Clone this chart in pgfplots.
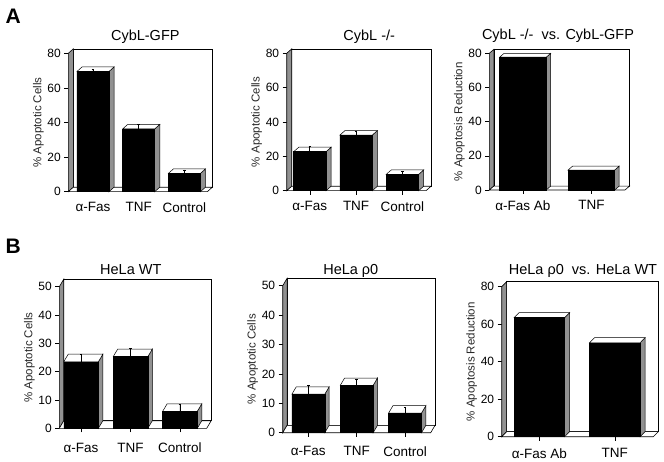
\documentclass[border=0pt]{standalone}
\usepackage{fontspec}
\setmainfont{Liberation Sans}
\usepackage{pgfplots}
\pgfplotsset{compat=1.18}
\usetikzlibrary{calc}
\definecolor{sidegray}{RGB}{145,145,145}
\definecolor{labgray}{RGB}{40,40,40}

% walls and floor of a pseudo-3D panel: xmin, xmax, ymax
\newcommand\walls[3]{%
 \pgfmathsetmacro\wa{#1+\dx}\pgfmathsetmacro\wb{#2+\dx}\pgfmathsetmacro\wc{#3+\dy}%
 \addplot[draw=black, fill=white, line width=0.6pt] coordinates {(\wa,\dy) (\wb,\dy) (\wb,\wc) (\wa,\wc)} -- cycle;
 \addplot[draw=black, fill=sidegray, line width=0.6pt] coordinates {(#1,0) (#1,#3) (\wa,\wc) (\wa,\dy)} -- cycle;
 \addplot[draw=black, fill=white, line width=0.6pt] coordinates {(#1,0) (#2,0) (\wb,\dy) (\wa,\dy)} -- cycle;
}
% side and top faces of a bar: x, value
\newcommand\barfaces[2]{%
 \pgfmathsetmacro\xl{#1-\bw}\pgfmathsetmacro\xr{#1+\bw}%
 \pgfmathsetmacro\xld{#1-\bw+\dx}\pgfmathsetmacro\xrd{#1+\bw+\dx}%
 \pgfmathsetmacro\vd{#2+\dy}%
 \addplot[draw=black, fill=sidegray, line width=0.5pt] coordinates {(\xr,0) (\xrd,\dy) (\xrd,\vd) (\xr,#2)} -- cycle;
 \addplot[draw=black, fill=white, line width=0.5pt] coordinates {(\xl,#2) (\xr,#2) (\xrd,\vd) (\xld,\vd)} -- cycle;
}

\pgfplotsset{
 panel/.style={
  scale only axis, clip=false, anchor=south west,
  axis lines*=left, axis line style={draw=none},
  tick align=outside, major tick length=4pt,
  ytick style={black, line width=0.6pt},
  xtick style={black, line width=0.6pt},
  xtick={0,1,2},
  /pgf/number format/assume math mode=true,
  yticklabel style={font=\fontsize{12}{12}\selectfont},
  xticklabel style={font=\fontsize{13.5}{14}\selectfont, yshift=-3pt},
  every axis y label/.style={at={($(axis description cs:0,0.5)+(-30pt,0)$)}, rotate=90, anchor=center,
     font=\fontsize{11.5}{12}\selectfont, text=labgray},
 },
 frontbar/.style={ybar, bar shift=0pt, fill=black, draw=black, line width=0.5pt,
  error bars/y dir=plus, error bars/y explicit,
  error bars/error bar style={black, line width=0.7pt},
  error bars/error mark options={rotate=90, mark size=1.3pt, black, line width=0.7pt}},
}

\begin{document}
\begin{tikzpicture}
\useasboundingbox (0,0) rectangle (664pt,461pt);

% panel letters
\node[anchor=base west, font=\bfseries\fontsize{21}{21}\selectfont] at (2pt,437pt) {A};
\node[anchor=base west, font=\bfseries\fontsize{21}{21}\selectfont] at (2pt,207.5pt) {B};

% titles
\begin{scope}[every node/.style={anchor=base, font=\fontsize{14.5}{15}\selectfont}]
\node at (145.3pt,420pt) {CybL-GFP};
\node at (369.2pt,420.3pt) {CybL -/-};
\node at (558pt,421pt) {CybL -/-\ \ vs. CybL-GFP};
\node at (130.8pt,186pt) {HeLa WT};
\node at (350.8pt,186.7pt) {HeLa ρ0};
\node at (583pt,186.7pt) {HeLa ρ0\ \ vs. HeLa WT};
\end{scope}

% A1
\begin{axis}[panel, at={(68.3pt,269.3pt)}, width=139pt, height=138.4pt,
  xmin=-0.54, xmax=2.50, ymin=0, ymax=80, ytick={0,20,40,60,80},
  xticklabels={α-Fas,TNF,Control}, xtick style={draw=none},
  ylabel={\% Apoptotic Cells}]
\def\dx{0.11}\def\dy{2.6}\def\bw{0.35}
\walls{-0.54}{2.50}{80}
\barfaces{0}{69.5}\barfaces{1}{36.3}\barfaces{2}{10.6}
\addplot[frontbar, bar width=0.7] coordinates {(0,69.5) +- (0,1.5) (1,36.3) +- (0,2.5) (2,10.6) +- (0,2)};
\end{axis}

% A2
\begin{axis}[panel, at={(286.7pt,270.3pt)}, width=139.3pt, height=137.4pt,
  xmin=-0.50, xmax=2.51, ymin=0, ymax=80, ytick={0,20,40,60,80},
  xticklabels={α-Fas,TNF,Control},
  ylabel={\% Apoptotic Cells}]
\def\dx{0.11}\def\dy{2.6}\def\bw{0.35}
\walls{-0.50}{2.51}{80}
\barfaces{0}{22.7}\barfaces{1}{32.4}\barfaces{2}{9.5}
\addplot[frontbar, bar width=0.7] coordinates {(0,22.7) +- (0,3) (1,32.4) +- (0,2) (2,9.5) +- (0,1.5)};
\end{axis}

% A3
\begin{axis}[panel, at={(489.3pt,271pt)}, width=135.7pt, height=136.7pt,
  xmin=-0.49, xmax=1.49, ymin=0, ymax=80, ytick={0,20,40,60,80}, xtick={0,1},
  xticklabels={α-Fas Ab,TNF},
  ylabel={\% Apoptosis Reduction}]
\def\dx{0.066}\def\dy{2.3}\def\bw{0.34}
\walls{-0.49}{1.49}{80}
\barfaces{0}{77.7}\barfaces{1}{11.7}
\addplot[frontbar, bar width=0.68] coordinates {(0,77.7) (1,11.7)};
\end{axis}

% B1
\begin{axis}[panel, at={(59.3pt,32.7pt)}, width=147.4pt, height=141.6pt,
  xmin=-0.44, xmax=2.54, ymin=0, ymax=50, ytick={0,10,20,30,40,50},
  xticklabels={α-Fas,TNF,Control}, xticklabel style={yshift=-4pt},
  ylabel={\% Apoptotic Cells}]
\def\dx{0.09}\def\dy{2.65}\def\bw{0.35}
\walls{-0.44}{2.54}{50}
\barfaces{0}{23.5}\barfaces{1}{25.3}\barfaces{2}{6}
\addplot[frontbar, bar width=0.7] coordinates {(0,23.5) +- (0,2.5) (1,25.3) +- (0,3) (2,6) +- (0,2.5)};
\end{axis}

% B2
\begin{axis}[panel, at={(282.7pt,28.3pt)}, width=148pt, height=147pt,
  xmin=-0.53, xmax=2.53, ymin=0, ymax=50, ytick={0,10,20,30,40,50},
  xticklabels={α-Fas,TNF,Control}, xticklabel style={yshift=-3pt},
  ylabel={\% Apoptotic Cells}]
\def\dx{0.09}\def\dy{2.5}\def\bw{0.34}
\walls{-0.53}{2.53}{50}
\barfaces{0}{13.1}\barfaces{1}{16.1}\barfaces{2}{6.7}
\addplot[frontbar, bar width=0.68] coordinates {(0,13.1) +- (0,3) (1,16.1) +- (0,2) (2,6.7) +- (0,2)};
\end{axis}

% B3
\begin{axis}[panel, at={(501.7pt,24.3pt)}, width=151.6pt, height=150pt,
  xmin=-0.50, xmax=1.51, ymin=0, ymax=80, ytick={0,20,40,60,80}, xtick={0,1},
  xticklabels={α-Fas Ab,TNF}, xticklabel style={yshift=-1pt},
  ylabel={\% Apoptosis Reduction}]
\def\dx{0.066}\def\dy{2.7}\def\bw{0.335}
\walls{-0.50}{1.51}{80}
\barfaces{0}{63.5}\barfaces{1}{50.1}
\addplot[frontbar, bar width=0.67] coordinates {(0,63.5) (1,50.1)};
\end{axis}
\end{tikzpicture}
\end{document}
